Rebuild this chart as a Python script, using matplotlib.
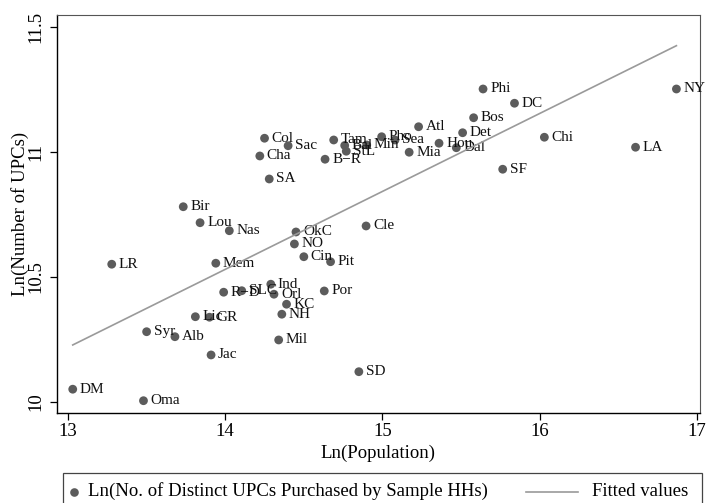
import numpy as np
import matplotlib
matplotlib.use("Agg")
import matplotlib.pyplot as plt
from matplotlib.lines import Line2D
from matplotlib.patches import Rectangle

# ---------------- data ----------------
cities = ['NY', 'LA', 'Chi', 'DC', 'Phi', 'SF', 'Bos', 'Det', 'Dal', 'Hou',
          'Atl', 'Mia', 'Sea', 'Pho', 'Min', 'StL', 'Bal', 'Tam', 'B\u2212R', 'Sac',
          'Col', 'Cha', 'SA', 'Cle', 'Pit', 'Cin', 'NO', 'OkC', 'Por', 'SD',
          'KC', 'NH', 'Mil', 'Orl', 'Ind', 'SLC', 'R\u2212D', 'Nas', 'Lou', 'Bir',
          'Mem', 'LR', 'GR', 'Lic', 'Syr', 'Alb', 'Jac', 'DM', 'Oma']
ln_pop = [16.87, 16.61, 16.03, 15.84, 15.64, 15.765, 15.58, 15.51, 15.47, 15.36,
          15.23, 15.17, 15.08, 14.995, 14.90, 14.77, 14.76, 14.69, 14.635, 14.40,
          14.25, 14.22, 14.28, 14.896, 14.67, 14.50, 14.44, 14.45, 14.63, 14.85,
          14.39, 14.36, 14.34, 14.31, 14.29, 14.105, 13.99, 14.026, 13.84, 13.733,
          13.94, 13.278, 13.90, 13.81, 13.50, 13.68, 13.91, 13.03, 13.48]
ln_upcs = [11.251, 11.018, 11.058, 11.194, 11.251, 10.930, 11.136, 11.076, 11.016, 11.034,
           11.100, 10.998, 11.047, 11.060, 11.027, 11.002, 11.025, 11.047, 10.970, 11.024,
           11.054, 10.983, 10.891, 10.703, 10.560, 10.580, 10.631, 10.679, 10.443, 10.120,
           10.390, 10.350, 10.247, 10.430, 10.470, 10.444, 10.438, 10.684, 10.716, 10.780,
           10.554, 10.550, 10.338, 10.340, 10.280, 10.260, 10.187, 10.050, 10.004]

x_ticks = [13, 14, 15, 16, 17]
y_ticks = [10, 10.5, 11, 11.5]
y_tick_labels = ['10', '10.5', '11', '11.5']

scatter_label = 'Ln(No. of Distinct UPCs Purchased by Sample HHs)'
fit_label = 'Fitted values'
x_title = 'Ln(Population)'
y_title = 'Ln(Number of UPCs)'

# ---------------- style ----------------
plt.rcParams['font.family'] = ['Liberation Serif', 'DejaVu Serif']
MARKER_C = '#5c5c5c'
LINE_C = '#9a9a9a'
FS = 13.5

W, H = 706, 503
fig = plt.figure(figsize=(W / 100, H / 100), dpi=100)
fig.patch.set_facecolor('white')

L, R, T, B = 56.7, 700.0, 15.0, 412.7
ax = fig.add_axes([L / W, 1 - B / H, (R - L) / W, (B - T) / H])

x = np.array(ln_pop)
y = np.array(ln_upcs)

ax.scatter(x, y, s=40, color=MARKER_C, edgecolors='none', zorder=2)
for name, xi, yi in zip(cities, x, y):
    ax.annotate(name, (xi, yi), xytext=(7, 0), textcoords='offset pixels',
                ha='left', va='center', fontsize=11, color='#111111', zorder=3)

# fitted line (OLS)
b1, b0 = np.polyfit(x, y, 1)
xf = np.array([x.min(), x.max()])
ax.plot(xf, b0 + b1 * xf, color=LINE_C, lw=1.2, zorder=4)

ax.set_xlim(12.928, 17.020)
ax.set_ylim(9.956, 11.547)
ax.set_xticks(x_ticks)
ax.set_xticklabels([str(t) for t in x_ticks])
ax.set_yticks(y_ticks)
ax.set_yticklabels(y_tick_labels, rotation=90, va='center')
ax.tick_params(axis='both', direction='out', length=5, width=0.9, color='black',
               labelsize=FS, pad=2.5)
ax.tick_params(axis='y', pad=4)

for side in ['left', 'bottom']:
    ax.spines[side].set_color('black')
    ax.spines[side].set_linewidth(1.0)
for side in ['top', 'right']:
    ax.spines[side].set_color('#555555')
    ax.spines[side].set_linewidth(0.8)

ax.set_xlabel(x_title, fontsize=FS)
ax.set_ylabel(y_title, fontsize=FS)
ax.xaxis.set_label_coords(0.5, -(453 - B) / (B - T))
ax.yaxis.set_label_coords(-(L - 20) / (R - L), 0.5)
ax.xaxis.label.set_va('center')
ax.yaxis.label.set_va('center')

# ---------------- legend (manual box) ----------------
def fx(px):
    return px / W

def fy(py):
    return 1 - py / H

fig.patches.append(Rectangle((fx(62.7), fy(510)), fx(701.5) - fx(62.7), fy(473.3) - fy(510),
                             transform=fig.transFigure, fill=False,
                             edgecolor='#444444', lw=0.9))
ly = 491.5
fig.lines.append(Line2D([fx(74)], [fy(ly)], marker='o', markersize=6.2,
                        color=MARKER_C, markeredgewidth=0, linestyle='none',
                        transform=fig.transFigure))
fig.text(fx(88), fy(ly), scatter_label, ha='left', va='center', fontsize=FS)
fig.lines.append(Line2D([fx(526), fx(578)], [fy(ly), fy(ly)], color=LINE_C, lw=1.2,
                        transform=fig.transFigure))
fig.text(fx(688), fy(ly), fit_label, ha='right', va='center', fontsize=FS)

fig.savefig('out.png', dpi=100, facecolor='white')
